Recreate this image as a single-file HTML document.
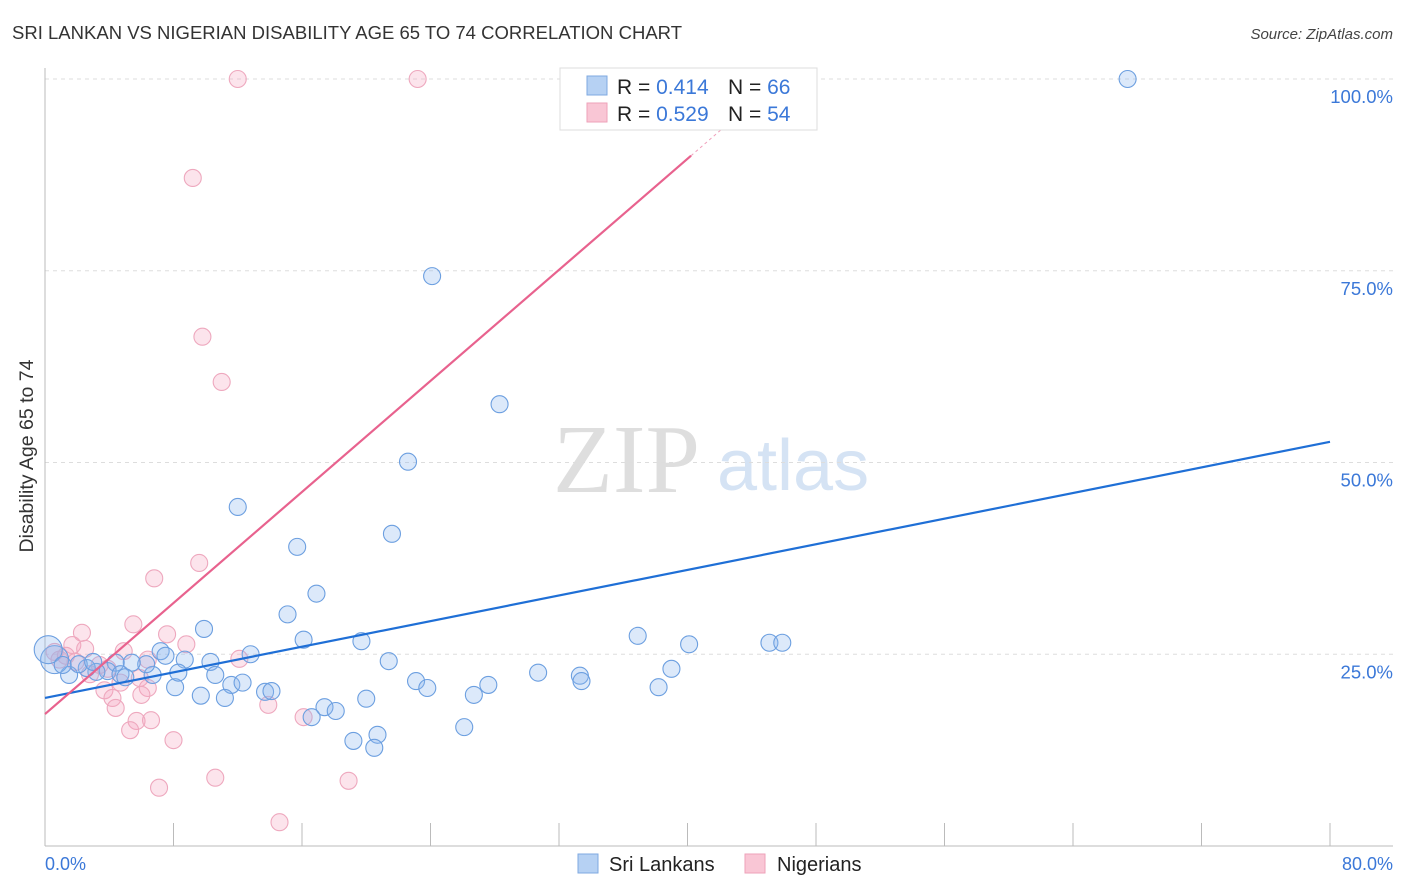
<!DOCTYPE html>
<html><head><meta charset="utf-8"><style>
body{margin:0;background:#fff;font-family:"Liberation Sans",sans-serif;}
svg{display:block}
</style></head><body>
<svg id="c" width="1406" height="892">
<text x="12" y="39" font-size="18.5" fill="#333" textLength="670">SRI LANKAN VS NIGERIAN DISABILITY AGE 65 TO 74 CORRELATION CHART</text>
<text x="1393" y="39" font-size="15" font-style="italic" fill="#444" text-anchor="end">Source: ZipAtlas.com</text>
<g>
<text x="553" y="492" font-family="Liberation Serif" font-size="98" fill="#dedede">ZIP</text>
<text x="717" y="490" font-size="72" fill="#d5e3f4">atlas</text>
</g>
<g id="grid"></g>
<g id="pts"></g>
<g id="lines"></g>
<text x="33" y="456" font-size="19.5" fill="#333" text-anchor="middle" transform="rotate(-90 33 456)">Disability Age 65 to 74</text>
<text x="45" y="870" font-size="18" fill="#3b78d8">0.0%</text>
<text x="1393" y="870" font-size="18" fill="#3b78d8" text-anchor="end">80.0%</text>
<g>
<rect x="560" y="68" width="257" height="62" fill="#fff" stroke="#ddd"/>
<rect x="587" y="76" width="20" height="19" fill="#b6d1f3" stroke="#7fa9e0"/>
<text x="617" y="94" font-size="21" fill="#222">R = <tspan fill="#3b78d8">0.414</tspan><tspan x="728">N = </tspan><tspan fill="#3b78d8">66</tspan></text>
<rect x="587" y="103" width="20" height="19" fill="#f9c6d5" stroke="#eea2b9"/>
<text x="617" y="121" font-size="21" fill="#222">R = <tspan fill="#3b78d8">0.529</tspan><tspan x="728">N = </tspan><tspan fill="#3b78d8">54</tspan></text>
</g>
<g>
<rect x="578" y="854" width="20" height="19" fill="#b6d1f3" stroke="#7fa9e0"/>
<text x="609" y="871" font-size="20" fill="#222">Sri Lankans</text>
</g>
<g>
<rect x="745" y="854" width="20" height="19" fill="#f9c6d5" stroke="#eea2b9"/>
<text x="777" y="871" font-size="20" fill="#222">Nigerians</text>
</g>
</svg>
<script>
const yTicks=[25,50,75,100];
const yTickLabels=["25.0%","50.0%","75.0%","100.0%"];
const xTicks=[0,8,16,24,32,40,48,56,64,72,80];
const blueX=[67.4,24.1,28.3,22.6,12.0,15.7,21.6,16.9,15.1,9.9,16.1,19.7,36.9,40.1,45.1,45.9,12.8,7.2,7.5,8.7,10.3,21.4,39.0,30.7,33.3,33.4,23.1,23.8,27.6,26.7,38.2,10.6,11.6,12.3,13.7,14.1,9.7,11.2,8.1,20.0,17.4,18.1,16.6,19.2,20.7,20.5,26.1,8.3,6.7,6.3,5.4,4.4,3.9,3.2,2.6,1.5,2.1,0.6,0.2,4.7,5.0,1.1,3.0];
const blueY=[100,74.3,57.6,50.1,44.2,39.0,40.7,32.9,30.2,28.3,26.9,26.7,27.4,26.3,26.5,26.5,25.0,25.4,24.8,24.3,24.0,24.1,23.1,22.6,22.2,21.5,21.5,20.6,21.0,19.7,20.7,22.3,21.0,21.3,20.1,20.2,19.6,19.3,20.7,19.2,18.1,17.6,16.8,13.7,14.5,12.8,15.5,22.6,22.3,23.7,23.9,23.9,22.8,22.7,23.2,22.3,23.7,24.3,25.6,22.4,22.0,23.6,24.0];
const pinkX=[12.0,23.2,9.2,9.8,11.0,9.6,6.8,5.5,2.3,7.6,8.8,4.9,1.7,2.5,12.1,6.4,0.6,1.3,0.9,1.9,3.4,3.9,2.8,5.9,4.7,6.4,3.7,4.2,6.0,4.4,13.9,16.1,5.7,6.6,5.3,8.0,10.6,18.9,7.1,14.6,35.8];
const pinkY=[100,100,87.1,66.4,60.5,36.9,34.9,28.9,27.8,27.6,26.3,25.4,26.2,25.7,24.4,24.3,25.3,24.8,24.3,24.0,23.6,23.1,22.4,21.9,21.3,20.6,20.3,19.3,19.7,18.0,18.4,16.8,16.3,16.4,15.1,13.8,8.9,8.5,7.6,3.1,100.3];
const blueTrend=[19.3,52.7];
const pinkTrend=[17.2,1.81];
const X=v=>45+v*(1285/80), Y=v=>846-v*7.67;
const NS="http://www.w3.org/2000/svg";
function mk(t,a,p){const e=document.createElementNS(NS,t);for(const k in a)e.setAttribute(k,a[k]);p.appendChild(e);return e;}
const g=document.getElementById('grid');
yTicks.forEach((t,i)=>{
 const l=mk('line',{x1:45,x2:1393,y1:Y(t),y2:Y(t),stroke:'#ddd','stroke-dasharray':'4,4'},g);
 
 
 const tx=mk('text',{x:1393,y:Y(t)+24,'font-size':18.5,fill:'#3b78d8','text-anchor':'end'},g);
 tx.textContent=yTickLabels[i];
 
 
});
const ax=mk('line',{x1:45,x2:45,y1:68,y2:846,stroke:'#bbb'},g);


const bx=mk('line',{x1:45,x2:1393,y1:846,y2:846,stroke:'#bbb'},g);


xTicks.forEach(t=>{
 const l=mk('line',{x1:X(t),x2:X(t),y1:823,y2:846,stroke:'#bbb'},g);
 
 
});
const p=document.getElementById('pts');
pinkX.forEach((x,i)=>{
 const c=mk('circle',{cx:X(x),cy:Y(pinkY[i]),r:8.5,fill:'rgba(244,165,192,0.3)',stroke:'#eea8be','stroke-width':1.1},p);
 
 
});
blueX.forEach((x,i)=>{
 const c=mk('circle',{cx:X(x),cy:Y(blueY[i]),r:(x<0.7?14:8.5),fill:'rgba(140,182,238,0.3)',stroke:'#6c9fe0','stroke-width':1.1},p);
 
 
});
const L=document.getElementById('lines');
const bl=mk('line',{x1:X(0),y1:Y(blueTrend[0]),x2:X(80),y2:Y(blueTrend[1]),stroke:'#1f6fd6','stroke-width':2.2},L);


const xe=(90-pinkTrend[0])/pinkTrend[1], xe2=(100-pinkTrend[0])/pinkTrend[1];
const pl=mk('line',{x1:X(0),y1:Y(pinkTrend[0]),x2:X(xe),y2:Y(90),stroke:'#e8628e','stroke-width':2.2},L);


const pd=mk('line',{x1:X(xe),y1:Y(90),x2:X(xe2),y2:Y(100),stroke:'#f0a0bb','stroke-width':1,'stroke-dasharray':'3,3'},L);


</script>
</body></html>
